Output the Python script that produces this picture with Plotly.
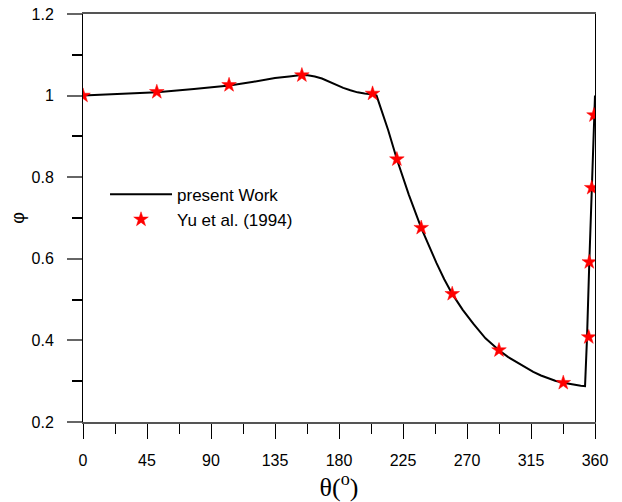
import plotly.graph_objects as go

# present work curve
theta_curve = [0, 25, 52, 78, 103, 120, 135, 145, 152, 158, 163, 168, 173, 178,
               183, 188, 193, 198, 202, 204.5, 206.4, 210, 214.6, 220.7, 229,
               237.8, 243, 248.5, 254, 259.6, 267, 274.4, 283, 292.5, 299, 305,
               311, 316.6, 322, 327, 332, 337.7, 342, 346, 350, 353, 354.4, 356,
               357.7, 359.3, 360]
phi_curve = [1.000, 1.004, 1.008, 1.016, 1.025, 1.034, 1.043, 1.047, 1.050, 1.050,
             1.047, 1.042, 1.034, 1.026, 1.019, 1.013, 1.008, 1.005, 1.004, 1.003,
             1.000, 0.962, 0.915, 0.844, 0.758, 0.676, 0.632, 0.590, 0.550, 0.514,
             0.475, 0.441, 0.405, 0.376, 0.359, 0.346, 0.334, 0.323, 0.314, 0.307,
             0.301, 0.296, 0.293, 0.291, 0.289, 0.288, 0.408, 0.592, 0.774, 0.952,
             1.000]

# Yu et al. (1994)
theta_yu = [0, 51.9, 102.7, 153.9, 203.6, 220.7, 237.8, 259.6, 292.5, 337.7,
            355.6, 356.0, 357.7, 359.3]
phi_yu = [1.000, 1.009, 1.026, 1.050, 1.005, 0.844, 0.676, 0.514, 0.376, 0.296,
          0.408, 0.592, 0.774, 0.952]

x_ticks = [0, 45, 90, 135, 180, 225, 270, 315, 360]

FONT = "Arial, Liberation Sans, sans-serif"

fig = go.Figure()
fig.add_trace(go.Scatter(x=theta_curve, y=phi_curve, mode="lines",
                         line=dict(color="black", width=2),
                         name="present Work"))
fig.add_trace(go.Scatter(x=theta_yu, y=phi_yu, mode="markers",
                         marker=dict(symbol="star", size=11, color="red",
                                     line=dict(color="red", width=0.5)),
                         name="Yu et al. (1994)"))

fig.update_layout(
    width=622, height=502,
    margin=dict(l=83, r=27, t=14, b=80),
    plot_bgcolor="white", paper_bgcolor="white",
    font=dict(family=FONT, size=16, color="black"),
    showlegend=True,
    legend=dict(x=0.043, y=0.601, xanchor="left", yanchor="top",
                bgcolor="rgba(0,0,0,0)", font=dict(size=17, family=FONT),
                itemwidth=62, tracegroupgap=0),
    xaxis=dict(range=[0, 360], tickvals=x_ticks, ticktext=[str(v) for v in x_ticks],
               showgrid=False, zeroline=False, automargin=False,
               showline=True, linecolor="#555", linewidth=1.5, mirror=True,
               ticks="outside", ticklen=15, tickcolor="black", tickwidth=1,
               minor=dict(ticks="outside", ticklen=10, tickcolor="black", dtick=22.5,
                          showgrid=False),
               tickfont=dict(size=16, family=FONT), ticklabelstandoff=8,
               title=dict(text="θ(<sup>o</sup>)",
                          font=dict(family="Liberation Serif, Times New Roman, serif", size=26),
                          standoff=8)),
    yaxis=dict(range=[0.2, 1.2], dtick=0.2, tick0=0.2,
               showgrid=False, zeroline=False, automargin=False,
               showline=True, linecolor="black", linewidth=1, mirror=True,
               ticks="outside", ticklen=15, tickcolor="#666", tickwidth=1.5,
               minor=dict(ticks="outside", ticklen=10, tickcolor="black", dtick=0.1,
                          showgrid=False),
               tickfont=dict(size=16, family=FONT), ticklabelstandoff=10,
               title=dict(text="φ", font=dict(family=FONT, size=18), standoff=2)),
)

fig.write_html("out.html")
